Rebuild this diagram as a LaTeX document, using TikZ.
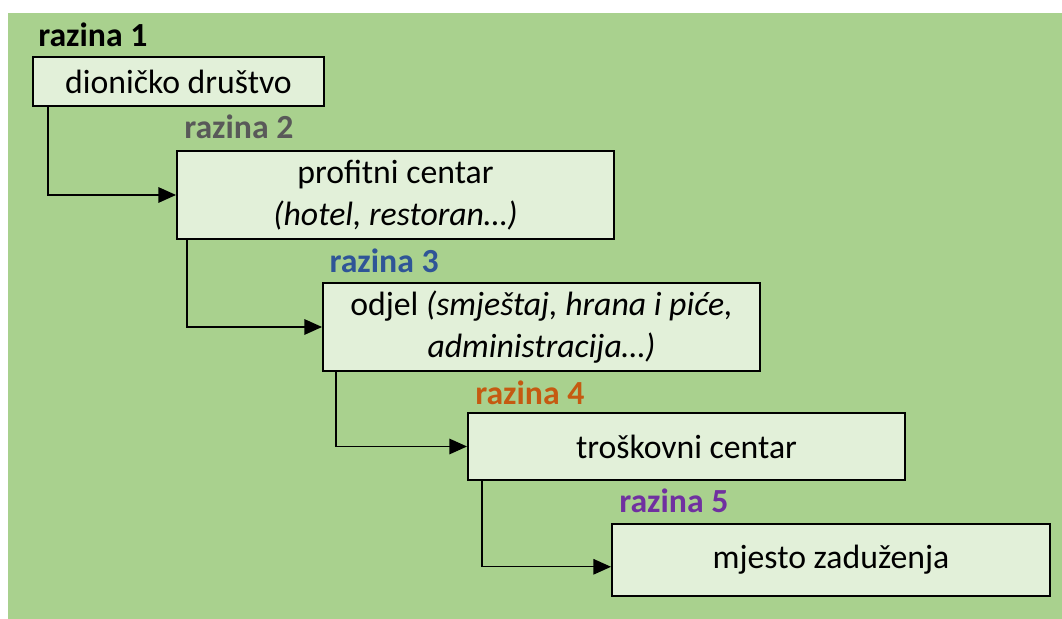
\documentclass[tikz,border=0pt]{standalone}
\usepackage{fontspec}
\setmainfont{Carlito}
\usepackage{xcolor}
\usetikzlibrary{arrows.meta}
\definecolor{background}{RGB}{169,209,142}
\definecolor{boxfill}{RGB}{226,240,217}
\definecolor{level2}{RGB}{89,89,89}
\definecolor{level3}{RGB}{47,85,151}
\definecolor{level4}{RGB}{197,90,17}
\definecolor{level5}{RGB}{112,48,160}
\tikzstyle{box}=[draw, line width=1.4pt, fill=boxfill, align=center, inner sep=0pt, font=\fontsize{24}{30}\selectfont]
\tikzstyle{level}=[anchor=base west, inner sep=0pt, font=\fontsize{24}{30}\selectfont\bfseries]
\tikzstyle{link}=[line width=1pt, -{Triangle[length=12.5pt,width=11pt]}]

\begin{document}
\begin{tikzpicture}
  \useasboundingbox (0,0) rectangle (26.55,15.475);
  \fill[background] (0.2,0) rectangle (26.55,15.15);

  \draw (4.4625,13.4375) node[box,minimum width=7.275cm,minimum height=1.225cm] (P1) {dioničko društvo};
  \draw (9.8875,10.6) node[box,minimum width=10.925cm,minimum height=2.2cm] (P2) {profitni centar\\\textit{(hotel, restoran…)}};
  \draw (13.5375,7.3) node[box,minimum width=10.925cm,minimum height=2.2cm] (P3) {odjel \textit{(smještaj, hrana i piće,}\\\textit{administracija…)}};
  \draw (17.1625,4.3125) node[box,minimum width=10.925cm,minimum height=1.675cm] (P4) {troškovni centar};
  \draw (20.775,1.475) node[box,minimum width=10.95cm,minimum height=1.8cm] (P5) {mjesto zaduženja};

  %% Level names
  \node[level] (L1) at ([xshift=0.15cm,yshift=0.25cm]P1.north west) {razina 1};
  \node[level,text=level2] (L2) at ([xshift=0.2cm,yshift=0.3cm]P2.north west) {razina 2};
  \node[level,text=level3] (L3) at ([xshift=0.18cm,yshift=0.25cm]P3.north west) {razina 3};
  \node[level,text=level4] (L4) at ([xshift=0.2cm,yshift=0.2cm]P4.north west) {razina 4};
  \node[level,text=level5] (L5) at ([xshift=0.2cm,yshift=0.27cm]P5.north west) {razina 5};

  %% Links
  \draw[link] ([xshift=0.4cm]P1.south west) |- (P2.west);
  \draw[link] ([xshift=0.275cm]P2.south west) |- (P3.west);
  \draw[link] ([xshift=0.35cm]P3.south west) |- (P4.west);
  \draw[link] ([xshift=0.375cm]P4.south west) |- ([yshift=-0.17cm]P5.west);
\end{tikzpicture}
\end{document}
